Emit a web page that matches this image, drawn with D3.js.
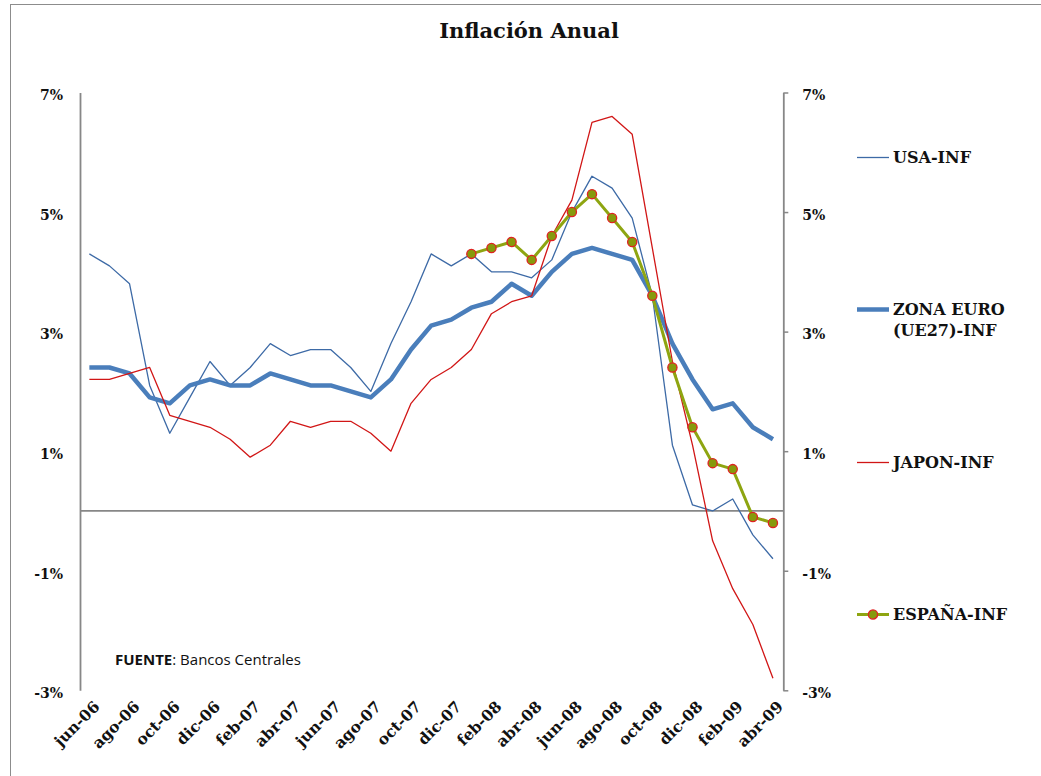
<!DOCTYPE html>
<html>
<head>
<meta charset="utf-8">
<script src="https://cdn.jsdelivr.net/npm/d3@7"></script>
<style>
  html, body { margin: 0; padding: 0; background: #fff; }
  svg { display: block; }
  .serif { font-family: "DejaVu Serif", serif; fill: #111; }
</style>
</head>
<body>
<svg id="chart" width="1041" height="776"></svg>
<script>
// Monthly annual inflation rates (%), jun-06 .. abr-09
const months = ["jun-06","jul-06","ago-06","sep-06","oct-06","nov-06","dic-06",
  "ene-07","feb-07","mar-07","abr-07","may-07","jun-07","jul-07","ago-07","sep-07","oct-07","nov-07","dic-07",
  "ene-08","feb-08","mar-08","abr-08","may-08","jun-08","jul-08","ago-08","sep-08","oct-08","nov-08","dic-08",
  "ene-09","feb-09","mar-09","abr-09"];

const usa = [4.3, 4.1, 3.8, 2.1, 1.3, 1.9, 2.5, 2.1, 2.4, 2.8, 2.6, 2.7, 2.7, 2.4, 2.0, 2.8, 3.5, 4.3, 4.1,
  4.3, 4.0, 4.0, 3.9, 4.2, 5.0, 5.6, 5.4, 4.9, 3.6, 1.1, 0.1, 0.0, 0.2, -0.4, -0.8];

const zonaEuro = [2.4, 2.4, 2.3, 1.9, 1.8, 2.1, 2.2, 2.1, 2.1, 2.3, 2.2, 2.1, 2.1, 2.0, 1.9, 2.2, 2.7, 3.1, 3.2,
  3.4, 3.5, 3.8, 3.6, 4.0, 4.3, 4.4, 4.3, 4.2, 3.6, 2.8, 2.2, 1.7, 1.8, 1.4, 1.2];

const japon = [2.2, 2.2, 2.3, 2.4, 1.6, 1.5, 1.4, 1.2, 0.9, 1.1, 1.5, 1.4, 1.5, 1.5, 1.3, 1.0, 1.8, 2.2, 2.4,
  2.7, 3.3, 3.5, 3.6, 4.6, 5.2, 6.5, 6.6, 6.3, 4.4, 2.5, 1.1, -0.5, -1.3, -1.9, -2.8];

const espana = [null, null, null, null, null, null, null, null, null, null, null, null, null, null, null, null, null, null, null,
  4.3, 4.4, 4.5, 4.2, 4.6, 5.0, 5.3, 4.9, 4.5, 3.6, 2.4, 1.4, 0.8, 0.7, -0.1, -0.2];

const yTicks = [7, 5, 3, 1, -1, -3];
const xTickLabels = months.filter((d, i) => i % 2 === 0);

const series = [
  { name: ["USA-INF"], values: usa, color: "#3d6aa6", width: 1.3, legendY: 157.5 },
  { name: ["ZONA EURO", "(UE27)-INF"], values: zonaEuro, color: "#4a7ebb", width: 4.5, legendY: 309.5 },
  { name: ["JAPON-INF"], values: japon, color: "#d11616", width: 1.3, legendY: 462.5 },
  { name: ["ESPAÑA-INF"], values: espana, color: "#8ea511", width: 3, legendY: 614.5, markers: true }
];

const svg = d3.select("#chart");

// outer frame
svg.append("rect")
  .attr("x", 10.5).attr("y", 4.5)
  .attr("width", 1100).attr("height", 900)
  .attr("fill", "none").attr("stroke", "#8c8c8c").attr("stroke-width", 1);

const x = d3.scalePoint().domain(months).range([79.3, 783]).padding(0.5);
const y = d3.scaleLinear().domain([-3, 7]).range([690.3, 92.5]);

const axisColor = "#878787";
const fmt = d => d + "%";

// left axis (labels only, no tick marks)
const leftAxis = svg.append("g")
  .attr("transform", "translate(80,0)")
  .call(d3.axisLeft(y).tickValues(yTicks).tickFormat(fmt).tickSize(0).tickPadding(17));
leftAxis.select(".domain").attr("stroke", axisColor).attr("stroke-width", 1.8);
leftAxis.selectAll("text").attr("class", "serif").attr("font-weight", "bold")
  .attr("font-size", 14).attr("dy", "0.52em");

// right axis with short outward ticks
const rightAxis = svg.append("g")
  .attr("transform", "translate(783.3,0)")
  .call(d3.axisRight(y).tickValues(yTicks).tickFormat(fmt).tickSizeInner(5).tickSizeOuter(0).tickPadding(14));
rightAxis.select(".domain").attr("stroke", axisColor).attr("stroke-width", 1.8);
rightAxis.selectAll("line").attr("stroke", axisColor).attr("stroke-width", 1.5);
rightAxis.selectAll("text").attr("class", "serif").attr("font-weight", "bold")
  .attr("font-size", 14).attr("dy", "0.52em");

// zero line
svg.append("line")
  .attr("x1", 80).attr("x2", 783.3)
  .attr("y1", y(0)).attr("y2", y(0))
  .attr("stroke", axisColor).attr("stroke-width", 1.8);

// category labels, rotated, placed below the plot
const bottomAxis = svg.append("g")
  .attr("transform", "translate(0,700)")
  .call(d3.axisBottom(x).tickValues(xTickLabels).tickSize(0).tickPadding(0));
bottomAxis.select(".domain").remove();
bottomAxis.selectAll("text")
  .attr("class", "serif")
  .attr("font-weight", "bold")
  .attr("font-size", 15.5)
  .attr("text-anchor", "end")
  .attr("dy", "0.7em")
  .attr("transform", "translate(3,0) rotate(-45)");

// series lines
const line = d3.line()
  .defined(d => d != null)
  .x((d, i) => x(months[i]))
  .y(d => y(d));

series.forEach(s => {
  svg.append("path")
    .datum(s.values)
    .attr("fill", "none")
    .attr("stroke", s.color)
    .attr("stroke-width", s.width)
    .attr("stroke-linejoin", "round")
    .attr("d", line);
  if (s.markers) {
    svg.append("g").selectAll("circle")
      .data(s.values.map((v, i) => ({ v, m: months[i] })).filter(d => d.v != null))
      .join("circle")
      .attr("cx", d => x(d.m))
      .attr("cy", d => y(d.v))
      .attr("r", 4.6)
      .attr("fill", "#869a0c")
      .attr("stroke", "#e02222")
      .attr("stroke-width", 1.3);
  }
});

// legend
const legend = svg.append("g");
series.forEach(s => {
  const g = legend.append("g").attr("transform", `translate(0,${s.legendY})`);
  g.append("line")
    .attr("x1", 857).attr("x2", 889)
    .attr("stroke", s.color).attr("stroke-width", s.width);
  if (s.markers) {
    g.append("circle").attr("cx", 873).attr("cy", 0).attr("r", 4.6)
      .attr("fill", "#869a0c").attr("stroke", "#e02222").attr("stroke-width", 1.3);
  }
  s.name.forEach((t, k) => {
    g.append("text")
      .attr("class", "serif")
      .attr("font-weight", "bold")
      .attr("x", 893).attr("y", k * 20.5)
      .attr("dy", "0.36em")
      .attr("font-size", 16)
      .text(t);
  });
});

// title
svg.append("text")
  .attr("class", "serif")
  .attr("font-weight", "bold")
  .attr("x", 529).attr("y", 38)
  .attr("text-anchor", "middle")
  .attr("font-size", 21)
  .text("Inflación Anual");

// source note
const src = svg.append("text")
  .attr("x", 115).attr("y", 665)
  .attr("font-family", "'Open Sans', sans-serif")
  .attr("font-size", 15)
  .attr("fill", "#111");
src.append("tspan").attr("font-weight", "bold").text("FUENTE");
src.append("tspan").text(": Bancos Centrales");
</script>
</body>
</html>
